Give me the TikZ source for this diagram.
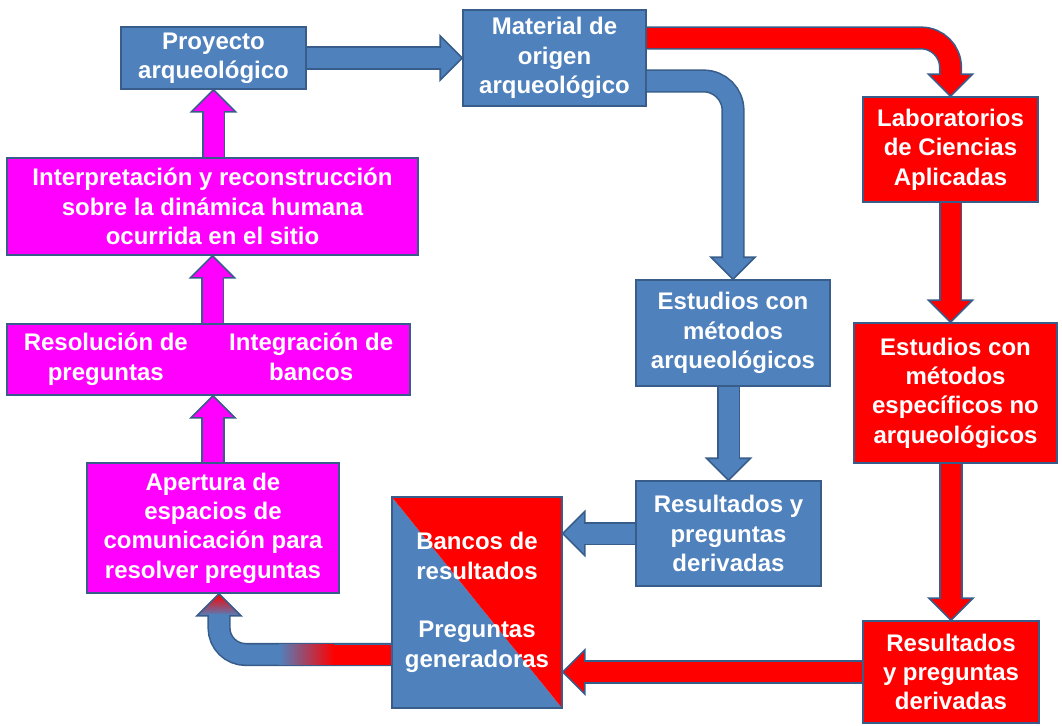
\documentclass[tikz,border=0pt]{standalone}
\usepackage{fontspec}
\setmainfont{Liberation Sans}
\usetikzlibrary{calc}

\definecolor{boxblue}{HTML}{4F81BD}
\definecolor{boxedge}{HTML}{385D8A}
\definecolor{boxred}{HTML}{FF0000}
\definecolor{boxpink}{HTML}{FF00FF}

\tikzset{
  box/.style={draw=boxedge, line width=1.2pt, inner sep=0pt, align=center,
    text=white, font=\bfseries\fontsize{18}{22}\selectfont},
  head/.pic={\filldraw[draw=boxedge, line width=1.2pt] (0,0) -- (-22,22) -- (-22,-22) -- cycle;},
  shaftout/.style={draw=boxedge, line width=17.4pt, shorten >=16.5pt},
  shaftin/.style={line width=15pt, shorten >=15pt},
}

% #1 colour, #2 path, #3 rotation of the head, #4 tip
\newcommand{\blockarrow}[4]{%
  \draw[shaftout] #2;
  \pic[fill=#1, rotate=#3] at #4 {head};
  \draw[shaftin, draw=#1] #2;
}

\begin{document}
\begin{tikzpicture}[x=0.75pt, y=-0.75pt]
\useasboundingbox (0,0) rectangle (1062,725);

% BLUE BRANCH
\node[box, fill=boxblue, minimum width=138.75pt, minimum height=46.5pt] (proy) at (213.5,58) {Proyecto\\arqueológico};
\node[box, fill=boxblue, minimum width=137.25pt, minimum height=72pt] (mat) at (554.5,58) {Material de\\origen\\arqueológico};
\node[box, fill=boxblue, minimum width=145.5pt, minimum height=79.5pt] (estarq) at (733,333) {Estudios con\\métodos\\arqueológicos};
\node[box, fill=boxblue, minimum width=138.75pt, minimum height=78.75pt] (resarq) at (728.5,533.5) {Resultados y\\preguntas\\derivadas};

% RED BRANCH
\node[box, fill=boxred, minimum width=131.25pt, minimum height=78.75pt] (lab) at (950.5,149.5) {Laboratorios\\de Ciencias\\Aplicadas};
\node[box, fill=boxred, minimum width=152.25pt, minimum height=105pt] (estnoarq) at (955.5,393) {Estudios con\\métodos\\específicos no\\arqueológicos};
\node[box, fill=boxred, minimum width=132pt, minimum height=76.5pt] (resno) at (951,672) {Resultados\\y preguntas\\derivadas};

% BANKS
\node[box, minimum width=127.5pt, minimum height=158.25pt,
  path picture={
    \fill[boxblue] (path picture bounding box.north west) -- (path picture bounding box.south east) -- (path picture bounding box.south west) -- cycle;
    \fill[boxred] (path picture bounding box.north west) -- (path picture bounding box.north east) -- (path picture bounding box.south east) -- cycle;
  }] (bancos) at (477,602.5) {Bancos de\\resultados\\[22pt]Preguntas\\generadoras};

% PINK BRANCH
\node[box, fill=boxpink, minimum width=189pt, minimum height=97.5pt] (apert) at (213,528) {Apertura de\\espacios de\\comunicación para\\resolver preguntas};
\node[box, fill=boxpink, minimum width=302.25pt, minimum height=53.25pt] (resol) at (208.5,359.5)
  {\begin{tabular}{@{}c@{\hspace{31pt}}c@{}}Resolución de & Integración de\\preguntas & bancos\end{tabular}};
\node[box, fill=boxpink, minimum width=308.25pt, minimum height=72.75pt] (interp) at (212.5,206.5) {Interpretación y reconstrucción\\sobre la dinámica humana\\ocurrida en el sitio};

% ARROWS
\blockarrow{boxblue}{(proy.east) -- (proy.east -| mat.west)}{0}{(proy.east -| mat.west)}
\blockarrow{boxred}{($(mat.east)+(0,-20)$) [rounded corners=22pt] -| (lab.north)}{-90}{(lab.north)}
\blockarrow{boxblue}{($(mat.east)+(0,23)$) [rounded corners=22pt] -| (estarq.north)}{-90}{(estarq.north)}
\blockarrow{boxblue}{(resarq.north |- estarq.south) -- (resarq.north)}{-90}{(resarq.north)}
\blockarrow{boxblue}{(resarq.west) -- (resarq.west -| bancos.east)}{180}{(resarq.west -| bancos.east)}
\blockarrow{boxred}{(lab.south) -- (lab.south |- estnoarq.north)}{-90}{(lab.south |- estnoarq.north)}
\blockarrow{boxred}{(resno.north |- estnoarq.south) -- (resno.north)}{-90}{(resno.north)}
\blockarrow{boxred}{(resno.west) -- (resno.west -| bancos.east)}{180}{(resno.west -| bancos.east)}
\blockarrow{boxpink}{(apert.north) -- (apert.north |- resol.south)}{90}{(apert.north |- resol.south)}
\blockarrow{boxpink}{(interp.south |- resol.north) -- (interp.south)}{90}{(interp.south)}
\blockarrow{boxpink}{(proy.south |- interp.north) -- (proy.south)}{90}{(proy.south)}

% banks back to the meetings
\coordinate (aptip) at ($(apert.south)+(6,0)$);
\draw[shaftout] ($(bancos.west)+(0,52)$) [rounded corners=20pt] -| (aptip);
\shadedraw[draw=boxedge, line width=1.2pt, top color=boxred, bottom color=boxblue] (aptip) -- ++(-22,22) -- ++(44,0) -- cycle;
\draw[shaftin, draw=boxblue] ($(bancos.west)+(0,52)$) [rounded corners=20pt] -| (aptip);
\shade[left color=boxblue, right color=boxred] ($(bancos.west)+(-112,42)$) rectangle ($(bancos.west)+(-57,62)$);
\fill[boxred] ($(bancos.west)+(-57.5,42)$) rectangle ($(bancos.west)+(0,62)$);
\end{tikzpicture}
\end{document}
